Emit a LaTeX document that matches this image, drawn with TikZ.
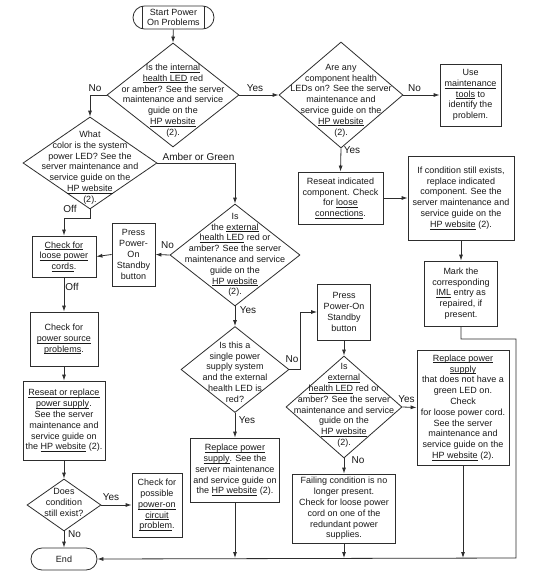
\documentclass[tikz,border=0pt]{standalone}
\usepackage{fontspec}
\setmainfont{Liberation Sans}
\usetikzlibrary{shapes.geometric,arrows.meta}
\definecolor{ln}{RGB}{45,45,45}
\definecolor{txt}{RGB}{25,25,25}
\newsavebox{\uxbox}
\newcommand{\ux}[1]{\sbox{\uxbox}{#1}\rlap{\rule[-1.7pt]{\wd\uxbox}{0.5pt}}\usebox{\uxbox}}
\begin{document}
\begin{tikzpicture}[x=1pt,y=-1pt,
  every node/.style={font=\fontsize{9}{10.8}\selectfont, text=txt},
  box/.style={draw=ln, line width=0.8pt, rectangle, inner sep=0pt, align=center},
  dia/.style={draw=ln, line width=0.8pt, diamond, inner sep=0pt},
  dtext/.style={align=center, inner sep=0pt},
  lab/.style={font=\fontsize{10}{12}\selectfont, inner sep=0pt},
  conn/.style={draw=ln, line width=0.8pt},
  arr/.style={draw=ln, line width=0.8pt, -{Latex[length=6pt,width=4pt]}}]
\useasboundingbox (0,0) rectangle (540,578);
\fill[white] (0,0) rectangle (540,578);

% terminals
\node[box, rounded corners=11.5pt, minimum width=81pt, minimum height=23pt] (s) at (173.5,17.5) {Start Power\\On Problems};
\draw[conn] ([xshift=10pt]s.north west) -- ([xshift=10pt]s.south west);
\draw[conn] ([xshift=-10pt]s.north east) -- ([xshift=-10pt]s.south east);
\node[box, rounded corners=11pt, minimum width=66pt, minimum height=22pt] (e) at (64,559) {End};

% diamonds
\node[dia, minimum width=132pt, minimum height=104pt] (d1) at (173,95) {};
\node[dtext] (d1t) at (173,100.5) {Is the \ux{internal}\\\ux{health LED} red\\or amber? See the server\\maintenance and service\\guide on the\\\ux{HP website}\\(2).};
\node[dia, minimum width=134pt, minimum height=92pt] (d2) at (90,163) {};
\node[dtext] (d2t) at (90,167.5) {What\\color is the system\\power LED? See the\\server maintenance and\\service guide on the\\\ux{HP website}\\(2).};
\node[dia, minimum width=124pt, minimum height=106pt] (d3) at (341,95) {};
\node[dtext] (d3t) at (341,100.5) {Are any\\component health\\LEDs on? See the server\\maintenance and\\service guide on the\\\ux{HP website}\\(2).};
\node[dia, minimum width=130pt, minimum height=102pt] (d4) at (235,255) {};
\node[dtext] (d4t) at (235,255) {Is\\the \ux{external}\\\ux{health LED} red or\\amber? See the server\\maintenance and service\\guide on the\\\ux{HP website}\\(2).};
\node[dia, minimum width=74pt, minimum height=52pt] (d5) at (64,505) {};
\node[dtext] (d5t) at (64,502.5) {Does\\condition\\still exist?};
\node[dia, minimum width=108pt, minimum height=86pt] (d6) at (235,369.5) {};
\node[dtext] (d6t) at (235,372) {Is this a\\single power\\supply system\\and the external\\health LED is\\red?};
\node[dia, minimum width=116pt, minimum height=102pt] (d7) at (344,407) {};
\node[dtext] (d7t) at (344,405.5) {Is\\\ux{external}\\\ux{health LED} red or\\amber? See the server\\maintenance and service\\guide on the\\\ux{HP website}\\(2).};

% boxes
\node[box, minimum width=61pt, minimum height=62pt] (tools) at (470.5,95) {Use\\\ux{maintenance}\\\ux{tools} to\\identify the\\problem.};
\node[box, minimum width=85pt, minimum height=52pt] (reseat) at (340.5,198) {Reseat indicated\\component. Check\\for \ux{loose}\\\ux{connections}.};
\node[box, minimum width=106pt, minimum height=84pt] (cond) at (461,198) {If condition still exists,\\replace indicated\\component. See the\\server maintenance and\\service guide on the\\\ux{HP website} (2).};
\node[box, minimum width=73pt, minimum height=65pt] (mark) at (461,293.5) {Mark the\\corresponding\\\ux{IML} entry as\\repaired, if\\present.};
\node[box, minimum width=43pt, minimum height=63pt] (press1) at (133.5,254.5) {Press\\Power-\\On\\Standby\\button};
\node[box, minimum width=64pt, minimum height=41pt] (cords) at (64,256.5) {\ux{Check for}\\\ux{loose power}\\\ux{cords}.};
\node[box, minimum width=68pt, minimum height=54pt] (psrc) at (64,339) {Check for\\\ux{power source}\\\ux{problems}.};
\node[box, minimum width=82pt, minimum height=79pt] (rr) at (64,420.5) {\ux{Reseat or replace}\\\ux{power supply}.\\See the server\\maintenance and\\service guide on\\the \ux{HP website} (2).};
\node[box, minimum width=50pt, minimum height=64pt] (poss) at (157,505) {Check for\\possible\\\ux{power-on}\\\ux{circuit}\\\ux{problem}.};
\node[box, minimum width=53pt, minimum height=56pt] (press2) at (344,312) {Press\\Power-On\\Standby\\button};
\node[box, minimum width=92pt, minimum height=115pt] (rep2) at (463,407.5) {\ux{Replace power}\\\ux{supply}\\that does not have a\\green LED on.\\Check\\for loose power cord.\\See the server\\maintenance and\\service guide on the\\\ux{HP website} (2).};
\node[box, minimum width=89pt, minimum height=64pt] (rep1) at (235,470) {\ux{Replace power}\\\ux{supply}. See the\\server maintenance\\and service guide on\\the \ux{HP website} (2).};
\node[box, minimum width=103pt, minimum height=69pt] (fail) at (344,508.5) {Failing condition is no\\longer present.\\Check for loose power\\cord on one of the\\redundant power\\supplies.};

% junction coordinates
\coordinate (mr) at (516,339);
\coordinate (rc) at (516,558);

% connectors
\draw[arr] (s) -- (d1.north);
\draw[arr] (d1.west) -| (d2.north);
\draw[arr] (d1.east) -- (d3.west);
\draw[arr] (d3.east) -- (tools.west);
\draw[arr] (d3.south) -- (reseat.north);
\draw[arr] (reseat.east) -- (cond.west);
\draw[arr] (cond.south) -- (mark.north);
\draw[arr] (mark.south) |- (mr) -- (rc) -- (e.east);
\draw[arr] (d2.east) -| (d4.north);
\draw[arr] (d2.south) -- ++(0,9) -| (cords.north);
\draw[arr] (d4.west) -- (press1.east);
\draw[arr] (press1.west) -- (cords.east);
\draw[arr] (cords.south) -- (psrc.north);
\draw[arr] (psrc.south) -- (rr.north);
\draw[arr] (rr.south) -- (d5.north);
\draw[arr] (d5.east) -- (poss.west);
\draw[arr] (d5.south) -- (e.north);
\draw[arr] (d4.south) -- (d6.north);
\draw[arr] (d6.east) -- ++(11,0) |- (press2.west);
\draw[arr] (press2.south) -- (d7.north);
\draw[arr] (d7.east) -- (rep2.west);
\draw[arr] (d7.south) -- (fail.north);
\draw[arr] (d6.south) -- (rep1.north);
\draw[arr] (rep1.south) -- (rep1.south |- rc);
\draw[arr] (fail.south) -- (fail.south |- rc);
\draw[arr] (rep2.south) -- (rep2.south |- rc);

% labels
\node[lab] (l1) at (95,88) {No};
\node[lab] (l2) at (255,88) {Yes};
\node[lab] (l3) at (414.5,88) {No};
\node[lab] (l4) at (352,150.5) {Yes};
\node[lab] (l5) at (198.5,157) {Amber or Green};
\node[lab] (l6) at (70,209) {Off};
\node[lab] (l7) at (167.5,245.5) {No};
\node[lab] (l8) at (72,286.5) {Off};
\node[lab] (l9) at (111,497) {Yes};
\node[lab] (l10) at (74.5,534) {No};
\node[lab] (l11) at (248,310) {Yes};
\node[lab] (l12) at (292,359) {No};
\node[lab] (l13) at (406.5,399) {Yes};
\node[lab] (l14) at (358,460.5) {No};
\node[lab] (l15) at (247,420) {Yes};
\end{tikzpicture}
\end{document}
